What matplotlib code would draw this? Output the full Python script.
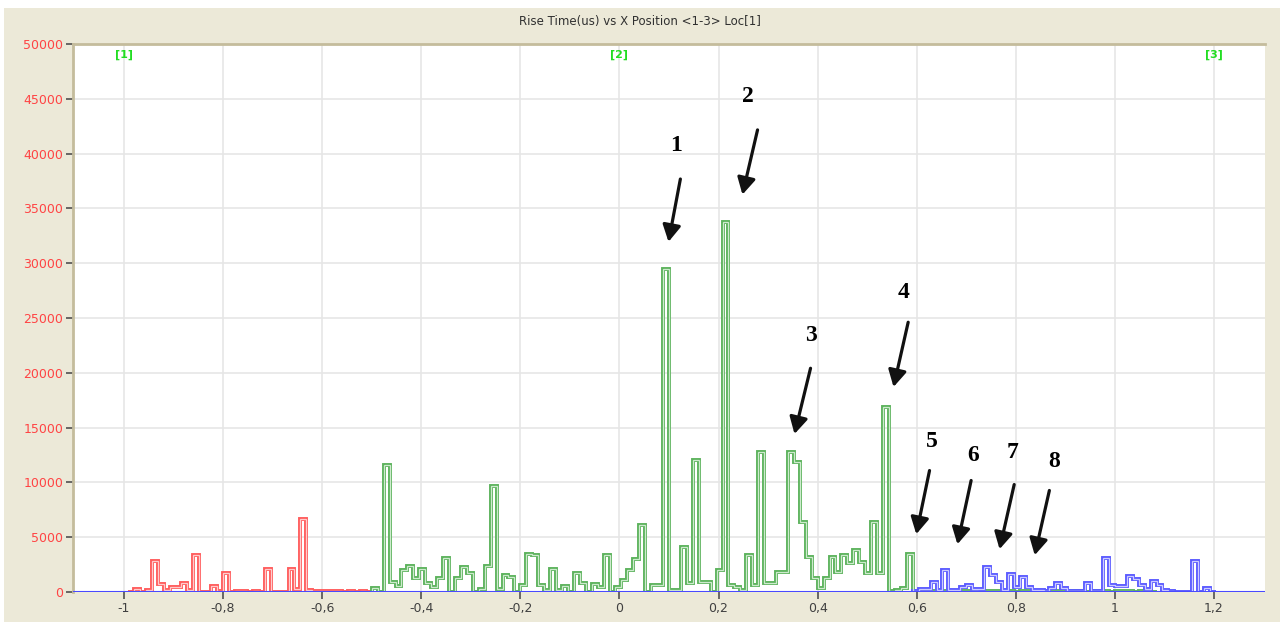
import numpy as np
import matplotlib
matplotlib.use("Agg")
import matplotlib.pyplot as plt
from matplotlib.patches import Rectangle

# histogram bins (common grid)
bin_start = -0.992
bin_width = 0.012

# red series (loc 1), starts at bin 0
red_first = 0
red_counts = [0, 300, 0, 150, 2850, 700, 200, 450, 450, 800,
              150, 3400, 0, 0, 550, 100, 1770, 0, 100, 100,
              0, 100, 0, 2100, 0, 0, 0, 2100, 300, 6700,
              200, 100, 100, 100, 100, 100, 0, 100, 0, 100, 0]

# green series (loc 2), starts at bin 41
green_first = 41
green_counts = [400, 0, 11600, 940, 550, 2000, 2380, 1250, 2070, 800,
                490, 1250, 3080, 0, 1250, 2310, 1770, 0, 300, 2380,
                9630, 300, 1550, 1400, 0, 640, 3500, 3400, 640, 150,
                2070, 150, 550, 0, 1700, 800, 0, 730, 430, 3380,
                0, 490, 1100, 2000, 3000, 6120, 0, 640, 640, 29500,
                200, 200, 4140, 790, 12000, 940, 940, 0, 2000, 33800,
                640, 500, 200, 3380, 640, 12800, 790, 790, 1860, 1860,
                12800, 11900, 6430, 3230, 1250, 330, 1250, 3230, 1860, 3380,
                2680, 3840, 2770, 1770, 6430, 1770, 16900, 100, 200, 400,
                3470, 40, 60, 80, 60, 40, 80, 100, 60, 60,
                80, 60, 40, 60, 80, 100, 80, 60, 40, 60,
                80, 60, 60, 80, 100, 80, 60, 60, 80, 60,
                40, 60, 80, 60, 40, 60, 80, 60, 40, 60,
                60, 40]

# blue series (loc 3), starts at bin 132
blue_first = 132
blue_counts = [100, 250, 250, 940, 200, 2010, 200, 150, 450, 640,
               240, 240, 2310, 1550, 940, 200, 1600, 490, 1400, 490,
               180, 180, 50, 330, 790, 330, 50, 50, 50, 790,
               50, 50, 3100, 640, 580, 580, 1460, 1160, 600, 300,
               1030, 640, 200, 50, 0, 0, 0, 2860, 0, 330, 0]

# annotations: label, text pos, arrow tail, arrow tip (data coords)
ann_labels = ["1", "2", "3", "4", "5", "6", "7", "8"]
ann_text = [(0.114, 40770), (0.259, 45250), (0.387, 23400), (0.574, 27330),
            (0.631, 13710), (0.713, 12430), (0.794, 12700), (0.877, 11880)]
ann_tail = [(0.124, 37930), (0.280, 42410), (0.387, 20660), (0.584, 24860),
            (0.627, 11330), (0.711, 10420), (0.798, 10050), (0.869, 9510)]
ann_tip = [(0.098, 31700), (0.247, 36015), (0.352, 14170), (0.552, 18460),
           (0.598, 5030), (0.681, 4110), (0.766, 3660), (0.837, 3110)]

x_ticks = [-1, -0.8, -0.6, -0.4, -0.2, 0, 0.2, 0.4, 0.6, 0.8, 1, 1.2]
y_ticks = list(range(0, 50001, 5000))
loc_labels = ["[1]", "[2]", "[3]"]
loc_x = [-1, 0, 1.2]

beige = "#ece9d8"

fig = plt.figure(figsize=(12.86, 6.28), dpi=100, facecolor="white")
fig.patches.append(Rectangle((4 / 1286, 6 / 628), 1276 / 1286, 614 / 628,
                             transform=fig.transFigure, facecolor=beige,
                             edgecolor="none", zorder=-10))
ax = fig.add_axes([73 / 1286, 36 / 628, 1192 / 1286, 548 / 628])
ax.set_facecolor("white")

fig.text(640 / 1286, 1 - 21 / 628, "Rise Time(us) vs X Position <1-3> Loc[1]",
         ha="center", va="center", fontsize=8.5, color="#303030")


def draw_series(first, counts, dark, light):
    edges = bin_start + bin_width * np.arange(first, first + len(counts) + 1)
    ax.stairs(counts, edges, baseline=0, color=dark, lw=2.8, zorder=3)
    ax.stairs(counts, edges, baseline=0, color=light, lw=0.9, zorder=3.1)


draw_series(red_first, red_counts, "#ff5c5c", "#ffcccc")
draw_series(green_first, green_counts, "#5cb25c", "#cdeacd")
draw_series(blue_first, blue_counts, "#5a5aff", "#ccccff")
ax.axhline(0, color="#4a4aff", lw=1.5, zorder=4)

ax.set_xlim(-1.103, 1.303)
ax.set_ylim(0, 50000)
ax.set_xticks(x_ticks)
ax.set_xticklabels([("%g" % t).replace(".", ",") for t in x_ticks],
                   fontsize=9, color="#404040")
ax.set_yticks(y_ticks)
ax.set_yticklabels([str(t) for t in y_ticks], fontsize=9, color="#ff4444")
ax.tick_params(axis="both", direction="out", length=5, width=1.2, color="#505050")
ax.tick_params(axis="x", pad=2)
ax.tick_params(axis="y", pad=2)
ax.grid(True, color="#e6e6e6", lw=1.2, zorder=0)
ax.set_axisbelow(True)

for s in ["right", "bottom"]:
    ax.spines[s].set_visible(False)
ax.spines["left"].set_color("#c4bc9c")
ax.spines["left"].set_linewidth(2)
ax.spines["top"].set_color("#c4bc9c")
ax.spines["top"].set_linewidth(2)

for lx, lt in zip(loc_x, loc_labels):
    ax.text(lx, 49000, lt, ha="center", va="center", color="#22dd22",
            fontsize=8, fontweight="bold", zorder=5)

for lab, tp, tl, tip in zip(ann_labels, ann_text, ann_tail, ann_tip):
    ax.text(tp[0], tp[1], lab, ha="center", va="center", fontsize=17,
            fontweight="bold", family="Liberation Serif", color="black", zorder=6)
    ax.annotate("", xy=tip, xytext=tl,
                arrowprops=dict(arrowstyle="-|>,head_length=1.0,head_width=0.55",
                                color="#111111", lw=2.3), zorder=6)

fig.savefig("out.png", dpi=100, facecolor=fig.get_facecolor())
